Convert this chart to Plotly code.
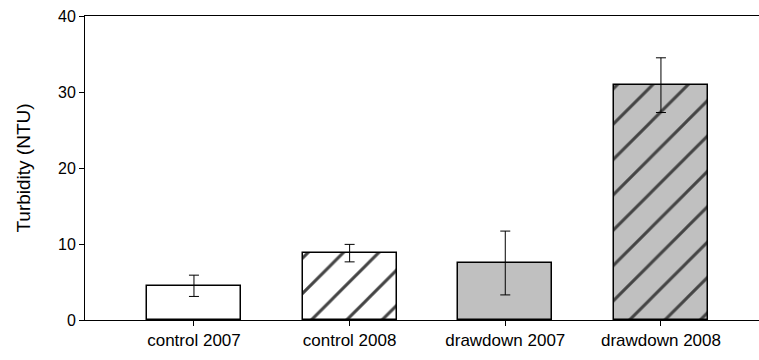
import plotly.graph_objects as go

categories = ["control 2007", "control 2008", "drawdown 2007", "drawdown 2008"]
turbidity = [4.5, 8.8, 7.5, 30.9]
turbidity_se = [1.4, 1.15, 4.2, 3.6]
fill_colors = ["white", "white", "#c0c0c0", "#c0c0c0"]
hatch_shapes = ["", "/", "", "/"]
y_ticks = [0, 10, 20, 30, 40]

FONT = "Arial, Liberation Sans, sans-serif"

fig = go.Figure()
fig.add_trace(go.Bar(
    x=list(range(len(categories))),
    y=turbidity,
    width=0.605,
    marker=dict(
        color=fill_colors,
        line=dict(color="black", width=1.5),
        pattern=dict(shape=hatch_shapes, bgcolor=fill_colors, fgcolor="black",
                     fgopacity=1, size=25, solidity=0.12, fillmode="overlay"),
    ),
    error_y=dict(type="data", array=turbidity_se, color="black", thickness=1, width=5),
    showlegend=False,
))

fig.update_layout(
    width=759, height=360,
    margin=dict(l=85, r=0, t=16, b=40),
    paper_bgcolor="white", plot_bgcolor="white",
    font=dict(family=FONT, size=15, color="black"),
    bargap=0,
)
fig.update_xaxes(
    range=[-0.70, 3.63],
    tickvals=list(range(len(categories))), ticktext=categories,
    showline=True, linecolor="black", linewidth=1, mirror=True,
    ticks="outside", ticklen=5, tickcolor="black",
    showgrid=False, zeroline=False,
    tickfont=dict(size=17),
)
fig.update_yaxes(
    range=[0, 40], tickvals=y_ticks,
    showline=True, linecolor="black", linewidth=1,
    ticks="outside", ticklen=5, tickcolor="black",
    showgrid=False, zeroline=False,
    title=dict(text="Turbidity (NTU)", font=dict(size=19), standoff=22),
    tickfont=dict(size=16),
)

fig.write_html("out.html")
